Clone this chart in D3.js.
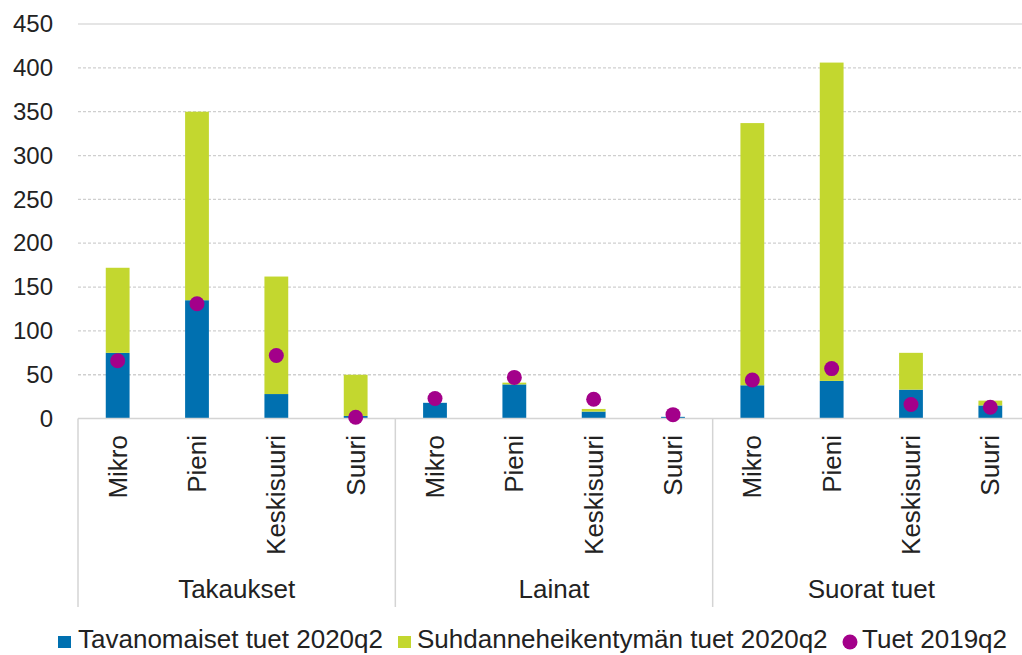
<!DOCTYPE html>
<html>
<head>
<meta charset="utf-8">
<script src="https://cdn.jsdelivr.net/npm/d3@7"></script>
<style>
  html, body { margin: 0; padding: 0; background: #fff; }
  svg { display: block; font-family: "Liberation Sans", Arial, sans-serif; }
</style>
</head>
<body>
<svg id="chart" width="1022" height="655"></svg>
<script>
// ---- data ----
const groups = ["Takaukset", "Lainat", "Suorat tuet"];
const sizes = ["Mikro", "Pieni", "Keskisuuri", "Suuri"];
const seriesNames = ["Tavanomaiset tuet 2020q2", "Suhdanneheikentymän tuet 2020q2", "Tuet 2019q2"];
// per group, per size
const tavanomaiset = [75, 135, 28, 3,   18, 39, 8, 2,   38, 43, 33, 15];
const suhdanne     = [97, 215, 134, 47,  0, 2, 3, 0,    299, 363, 42, 5.5];
const tuet2019     = [66, 131, 72, 1.5,  23, 47, 22, 4.5, 44, 57, 16, 13];
const yTicks = [0, 50, 100, 150, 200, 250, 300, 350, 400, 450];

const colors = { blue: "#0070B0", green: "#C3D72F", magenta: "#A3008A" };

const rows = [];
groups.forEach((g, gi) => sizes.forEach((s, si) => {
  const i = gi * sizes.length + si;
  rows.push({ key: g + "|" + s, group: g, size: s,
    a: tavanomaiset[i], b: suhdanne[i], c: tuet2019[i] });
}));

const svg = d3.select("#chart");
const pLeft = 78, pRight = 1030, pTop = 24, pBottom = 418.6;

const x = d3.scaleBand().domain(rows.map(d => d.key)).range([pLeft, pRight])
  .paddingInner(0.7).paddingOuter(0.35);
const y = d3.scaleLinear().domain([0, 450]).range([pBottom, pTop]);

// gridlines
svg.append("g").selectAll("line").data(yTicks.filter(t => t > 0)).join("line")
  .attr("x1", pLeft).attr("x2", 1022)
  .attr("y1", d => y(d)).attr("y2", d => y(d))
  .attr("stroke", d => d === 450 ? "#dcdcdc" : "#cfcfcf")
  .attr("stroke-width", 1.3)
  .attr("stroke-dasharray", d => d === 450 ? null : "3,2");

// y axis labels
const yAxis = d3.axisLeft(y).tickValues(yTicks).tickSize(0).tickPadding(0);
const ya = svg.append("g").attr("transform", `translate(53,0)`).call(yAxis);
ya.select(".domain").remove();
ya.selectAll("text").attr("font-size", 24).attr("fill", "#222")
  .attr("font-family", "Liberation Sans, Arial, sans-serif");

// stacked bars
const stack = d3.stack().keys(["a", "b"])(rows);
const fills = [colors.blue, colors.green];
svg.append("g").selectAll("g").data(stack).join("g")
  .attr("fill", (d, i) => fills[i])
  .selectAll("rect").data(d => d).join("rect")
  .attr("x", d => x(d.data.key))
  .attr("width", x.bandwidth())
  .attr("y", d => y(d[1]))
  .attr("height", d => Math.max(0, y(d[0]) - y(d[1])));

// baseline
svg.append("line").attr("x1", pLeft).attr("x2", 1022)
  .attr("y1", y(0)).attr("y2", y(0))
  .attr("stroke", "#d4d4d4").attr("stroke-width", 1.5);

// dots
svg.append("g").selectAll("circle").data(rows).join("circle")
  .attr("cx", d => x(d.key) + x.bandwidth() / 2)
  .attr("cy", d => y(d.c))
  .attr("r", 7.5)
  .attr("fill", colors.magenta);

// category labels (rotated)
svg.append("g").selectAll("text").data(rows).join("text")
  .attr("transform", d => `translate(${x(d.key) + x.bandwidth() / 2 + 9},435) rotate(-90)`)
  .attr("text-anchor", "end")
  .attr("font-size", 26)
  .attr("fill", "#222")
  .text(d => d.size);

// group separators and labels
const step = x.step();
const gW = step * sizes.length;
const seps = d3.range(groups.length + 1).map(i => pLeft + i * gW);
svg.append("g").selectAll("line").data(seps).join("line")
  .attr("x1", d => d).attr("x2", d => d)
  .attr("y1", y(0)).attr("y2", 607)
  .attr("stroke", "#d4d4d4").attr("stroke-width", 1.5);

svg.append("g").selectAll("text").data(groups).join("text")
  .attr("x", (d, i) => pLeft + i * gW + gW / 2)
  .attr("y", 598)
  .attr("text-anchor", "middle")
  .attr("font-size", 26)
  .attr("fill", "#222")
  .text(d => d);

// legend
const lg = svg.append("g");
const legendItems = [
  { name: seriesNames[0], type: "rect", color: colors.blue, mx: 58, tx: 78 },
  { name: seriesNames[1], type: "rect", color: colors.green, mx: 398, tx: 417 },
  { name: seriesNames[2], type: "circle", color: colors.magenta, mx: 850, tx: 862 }
];
legendItems.forEach(it => {
  if (it.type === "rect") {
    lg.append("rect").attr("x", it.mx).attr("y", 636).attr("width", 13).attr("height", 12)
      .attr("fill", it.color);
  } else {
    lg.append("circle").attr("cx", it.mx).attr("cy", 642).attr("r", 7.5).attr("fill", it.color);
  }
  lg.append("text").attr("x", it.tx).attr("y", 648)
    .attr("font-size", 26).attr("fill", "#222").text(it.name);
});
</script>
</body>
</html>
